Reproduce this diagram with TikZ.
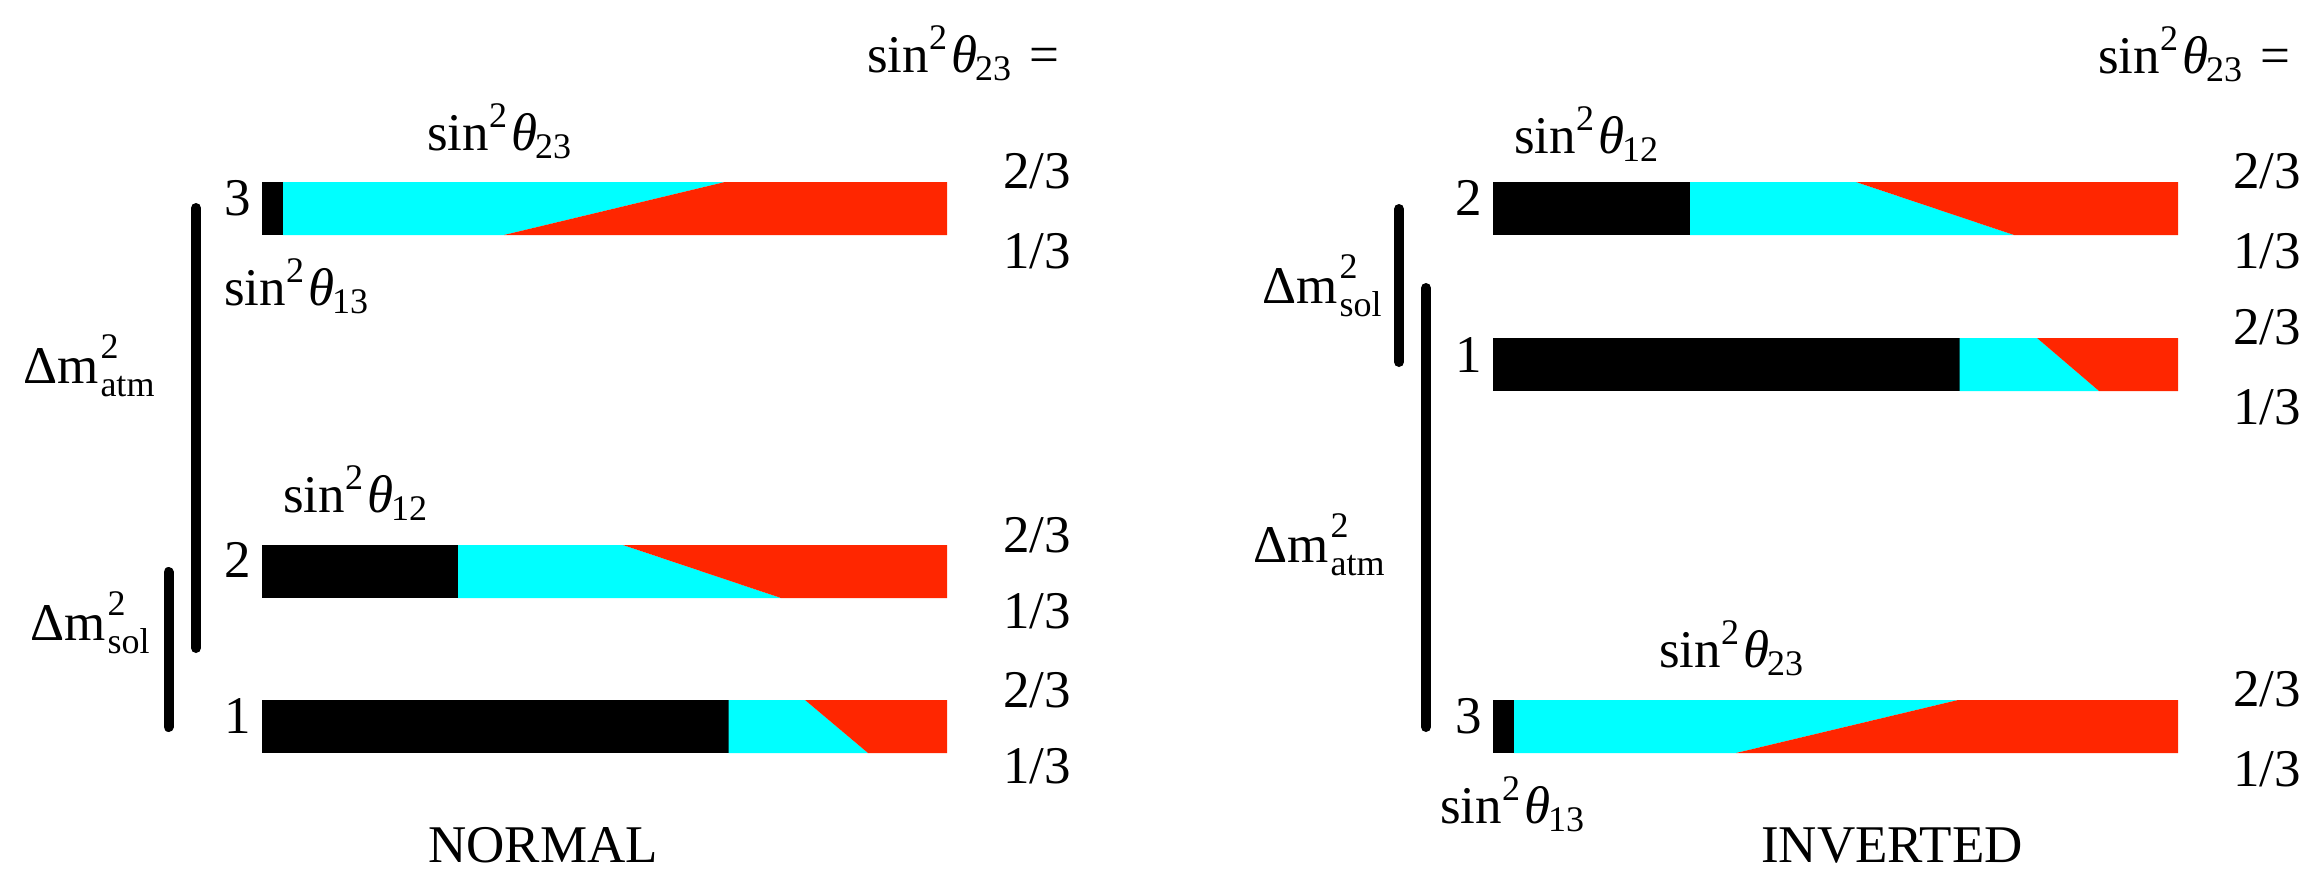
\documentclass[tikz,border=0pt]{standalone}
\usepackage{fontspec}
\setmainfont{Liberation Serif}
\newfontfamily\tms{Liberation Serif}
\definecolor{cy}{RGB}{0,255,255}
\definecolor{rd}{RGB}{255,38,0}
\newcommand{\scr}{\fontsize{36}{36}\selectfont}
\newcommand{\sq}[1]{sin{\scr\raisebox{23pt}{2}}\hspace{4pt}{\itshape θ}\hspace{-2pt}{\scr\raisebox{-8pt}{#1}}}
\newcommand{\dmsq}[1]{Δm\hspace{2pt}\rlap{\scr\raisebox{25pt}{2}}{\scr\raisebox{-13pt}{#1}}}
\newcommand{\nubar}[5]{%
 \fill[black] (#1,#2) rectangle (#3,#2+53);
 \fill[cy] (#3,#2) -- (#4,#2) -- (#5,#2+53) -- (#3,#2+53) -- cycle;
 \fill[rd] (#4,#2) -- (#1+685,#2) -- (#1+685,#2+53) -- (#5,#2+53) -- cycle;}
\begin{document}
\begin{tikzpicture}[x=1pt,y=-1pt,
  txt/.style={inner sep=0pt,font=\tms\fontsize{53}{60}\selectfont},
  lev/.style={line width=10pt,line cap=round}]
\useasboundingbox (0,0) rectangle (2307,870);
% ---------- NORMAL ----------
\nubar{262}{182}{283}{725}{504}
\nubar{262}{545}{458}{623}{781}
\nubar{262}{700}{728.5}{805}{868}
\node[txt,anchor=base east] (n3) at (251,215) {3};
\node[txt,anchor=base east] (n2) at (251,577) {2};
\node[txt,anchor=base east] (n1) at (251,733) {1};
\node[txt,anchor=base west] (na3) at (1003,188) {2/3};
\node[txt,anchor=base west] (nb3) at (1003,268) {1/3};
\node[txt,anchor=base west] (na2) at (1003,552) {2/3};
\node[txt,anchor=base west] (nb2) at (1003,628) {1/3};
\node[txt,anchor=base west] (na1) at (1003,707) {2/3};
\node[txt,anchor=base west] (nb1) at (1003,783) {1/3};
\node[txt,anchor=base west] (nhead) at (867,72) {\sq{23}\hspace{18pt}=};
\node[txt,anchor=base west] (nt23) at (427,150) {\sq{23}};
\node[txt,anchor=base west] (nt13) at (224,305) {\sq{13}};
\node[txt,anchor=base west] (nt12) at (283,512) {\sq{12}};
\node[txt,anchor=base west] (ndatm) at (23,383) {\dmsq{atm}};
\node[txt,anchor=base west] (ndsol) at (30,640) {\dmsq{sol}};
\node[txt,anchor=base west] (ntitle) at (428,862) {NORMAL};
\draw[lev] (196,208) -- (196,648);
\draw[lev] (168.5,572) -- (168.5,727);
% ---------- INVERTED ----------
\nubar{1493}{182}{1690}{1856}{2014}
\nubar{1493}{338}{1959.5}{2037}{2099}
\nubar{1493}{700}{1514}{1958}{1736}
\node[txt,anchor=base east] (i2) at (1482,215) {2};
\node[txt,anchor=base east] (i1) at (1482,372) {1};
\node[txt,anchor=base east] (i3) at (1482,733) {3};
\node[txt,anchor=base west] (ia2) at (2233,188) {2/3};
\node[txt,anchor=base west] (ib2) at (2233,268) {1/3};
\node[txt,anchor=base west] (ia1) at (2233,344) {2/3};
\node[txt,anchor=base west] (ib1) at (2233,424) {1/3};
\node[txt,anchor=base west] (ia3) at (2233,706) {2/3};
\node[txt,anchor=base west] (ib3) at (2233,786) {1/3};
\node[txt,anchor=base west] (ihead) at (2098,73) {\sq{23}\hspace{18pt}=};
\node[txt,anchor=base west] (it12) at (1514,153) {\sq{12}};
\node[txt,anchor=base west] (it23) at (1659,667) {\sq{23}};
\node[txt,anchor=base west] (it13) at (1440,823) {\sq{13}};
\node[txt,anchor=base west] (idsol) at (1262,303) {\dmsq{sol}};
\node[txt,anchor=base west] (idatm) at (1253,562) {\dmsq{atm}};
\node[txt,anchor=base west] (ititle) at (1761,862) {INVERTED};
\draw[lev] (1399,209) -- (1399,362);
\draw[lev] (1426,288) -- (1426,727);
\end{tikzpicture}
\end{document}
